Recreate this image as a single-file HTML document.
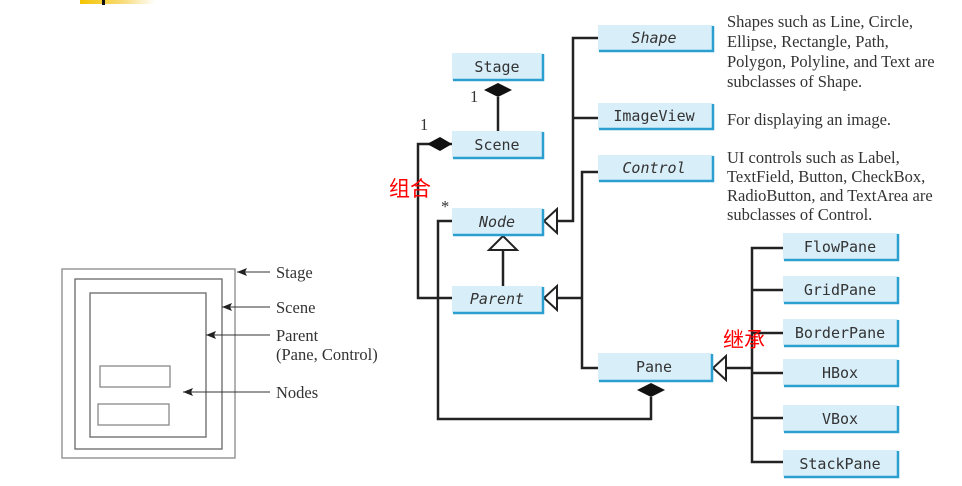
<!DOCTYPE html>
<html><head><meta charset="utf-8"><style>
html,body{margin:0;padding:0;background:#fff;}
svg{display:block;}
.m{font-family:"DejaVu Sans Mono","Liberation Mono",monospace;font-size:15px;fill:#333;}
.s{font-family:"Liberation Serif",serif;font-size:16.5px;fill:#333;}
.l{stroke:#222;stroke-width:2.5;fill:none;}
</style></head><body>
<svg width="962" height="486" viewBox="0 0 962 486" xmlns="http://www.w3.org/2000/svg">
<defs>
<linearGradient id="g" x1="0" x2="1"><stop offset="0" stop-color="#f5c400"/><stop offset="0.6" stop-color="#f8dd80"/><stop offset="1" stop-color="#fff"/></linearGradient>
</defs>
<rect x="80" y="0" width="75" height="4" fill="url(#g)"/>
<rect x="102" y="0" width="3" height="5" fill="#111"/>

<!-- left figure -->
<g fill="none" stroke="#888" stroke-width="1.3">
<rect x="62" y="269" width="173" height="189"/>
<rect x="75" y="279" width="147" height="170" stroke="#666"/>
<rect x="90" y="293" width="116" height="144" stroke="#666"/>
<rect x="100" y="366" width="70" height="21"/>
<rect x="98" y="404" width="71" height="21"/>
</g>
<g stroke="#333" stroke-width="1">
<line x1="237" y1="272" x2="270" y2="272"/>
<line x1="222" y1="307" x2="270" y2="307"/>
<line x1="206" y1="335" x2="270" y2="335"/>
<line x1="183" y1="392" x2="270" y2="392"/>
</g>
<g fill="#222">
<polygon points="237,272 247,268 245,272 247,276"/>
<polygon points="222,307 232,303 230,307 232,311"/>
<polygon points="206,335 216,331 214,335 216,339"/>
<polygon points="183,392 193,388 191,392 193,396"/>
</g>
<g class="s" font-size="17">
<text x="276" y="278">Stage</text>
<text x="276" y="313">Scene</text>
<text x="276" y="341">Parent</text>
<text x="276" y="360">(Pane, Control)</text>
<text x="276" y="398">Nodes</text>
</g>

<!-- connectors -->
<path class="l" d="M498 97 V131"/>
<polygon points="484,90 498,83 512,90 498,97" fill="#111"/>
<path class="l" d="M452 144 H418 V298 H452"/>
<polygon points="427,144 440,137 452,144 440,151" fill="#111"/>
<path class="l" d="M452 221 H438 V419 H651 V397"/>
<polygon points="637,390 651,383 665,390 651,397" fill="#111"/>
<path class="l" d="M503 250 V286"/>
<polygon points="503,236 517,250 489,250" fill="#fff" stroke="#222" stroke-width="2"/>
<path class="l" d="M557 221 H573 V38 H598 M573 118 H598"/>
<polygon points="544,221 557,209 557,233" fill="#fff" stroke="#222" stroke-width="2"/>
<path class="l" d="M557 298 H582 M598 172 H582 V368 H598"/>
<polygon points="544,298 557,286 557,310" fill="#fff" stroke="#222" stroke-width="2"/>
<path class="l" d="M726 368 H752 M783 248 H752 V462 H783 M752 290 H783 M752 333 H783 M752 373 H783 M752 418 H783"/>
<polygon points="713,368 726,356 726,380" fill="#fff" stroke="#222" stroke-width="2"/>

<!-- boxes -->
<g fill="#d8eef9">
<rect x="452" y="53" width="91" height="27"/>
<rect x="452" y="131" width="91" height="27"/>
<rect x="452" y="208" width="91" height="27"/>
<rect x="452" y="286" width="91" height="27"/>
<rect x="598" y="25" width="115" height="26"/>
<rect x="598" y="103" width="115" height="26"/>
<rect x="598" y="155" width="115" height="26"/>
<rect x="598" y="353" width="114" height="28"/>
<rect x="783" y="233" width="115" height="27"/>
<rect x="783" y="276" width="115" height="27"/>
<rect x="783" y="319" width="115" height="27"/>
<rect x="783" y="359" width="115" height="27"/>
<rect x="783" y="405" width="115" height="27"/>
<rect x="783" y="450" width="115" height="27"/>
</g>
<g stroke="#2a9fd0" stroke-width="2.5" fill="none">
<path d="M453 80 H543 V54 M453 158 H543 V132 M453 235 H543 V209 M453 313 H543 V287"/>
<path d="M599 51 H713 V26 M599 129 H713 V104 M599 181 H713 V156 M599 381 H712 V354"/>
<path d="M784 260 H898 V234 M784 303 H898 V277 M784 346 H898 V320 M784 386 H898 V360 M784 432 H898 V406 M784 477 H898 V451"/>
</g>
<g class="m" text-anchor="middle">
<text x="497" y="72">Stage</text>
<text x="497" y="150">Scene</text>
<text x="497" y="227" font-style="italic">Node</text>
<text x="497" y="304" font-style="italic">Parent</text>
<text x="654" y="43" font-style="italic">Shape</text>
<text x="654" y="121">ImageView</text>
<text x="654" y="173" font-style="italic">Control</text>
<text x="654" y="372">Pane</text>
<text x="840" y="252">FlowPane</text>
<text x="840" y="295">GridPane</text>
<text x="840" y="338">BorderPane</text>
<text x="840" y="378">HBox</text>
<text x="840" y="424">VBox</text>
<text x="840" y="469">StackPane</text>
</g>
<text class="s" x="470" y="102" font-size="15">1</text>
<text class="s" x="420" y="130" font-size="15">1</text>
<text class="s" x="441" y="212" font-size="12">*</text>

<g class="s">
<text x="727" y="27">Shapes such as Line, Circle,</text>
<text x="727" y="47">Ellipse, Rectangle, Path,</text>
<text x="727" y="67">Polygon, Polyline, and Text are</text>
<text x="727" y="87">subclasses of Shape.</text>
<text x="727" y="125">For displaying an image.</text>
<text x="727" y="163">UI controls such as Label,</text>
<text x="727" y="182">TextField, Button, CheckBox,</text>
<text x="727" y="201">RadioButton, and TextArea are</text>
<text x="727" y="220">subclasses of Control.</text>
</g>
<g font-family="'Noto Sans CJK SC',sans-serif" font-size="21" fill="#f00">
<text x="389" y="196">组合</text>
<text x="723" y="347">继承</text>
</g>
</svg>
</body></html>
